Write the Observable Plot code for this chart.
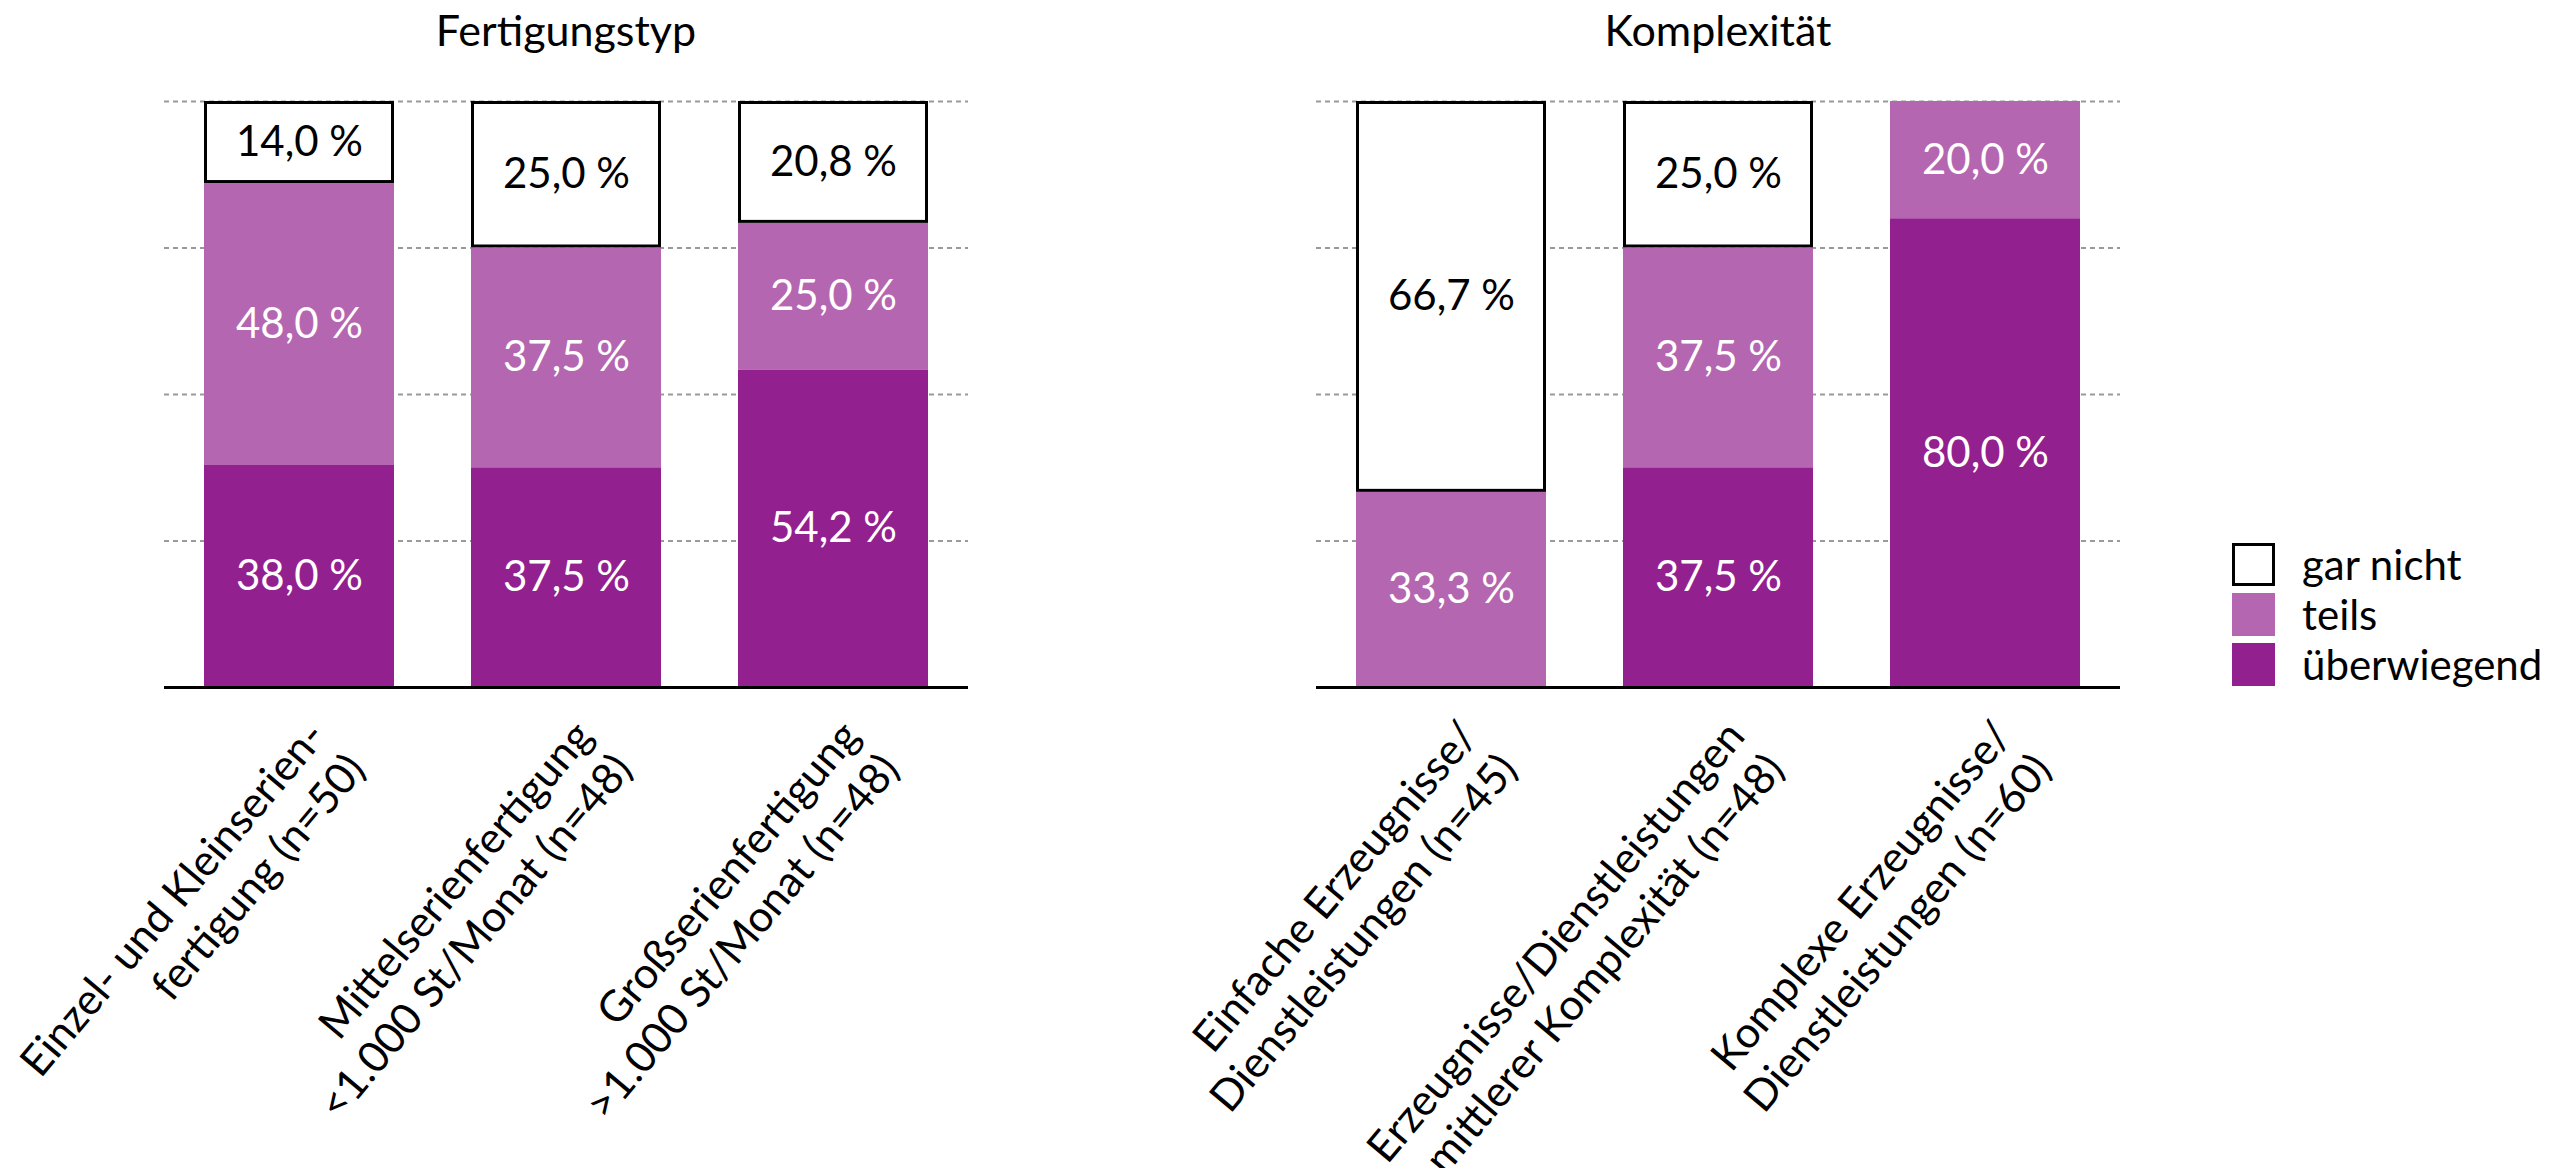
<!DOCTYPE html>
<html><head><meta charset="utf-8">
<script src="https://cdn.jsdelivr.net/npm/d3@7"></script>
<script src="https://cdn.jsdelivr.net/npm/@observablehq/plot@0.6"></script>
<style>
body{margin:0;background:#fff;font-family:Lato,sans-serif;}
#root{position:relative;width:2574px;height:1168px;overflow:hidden;background:#fff}
.panel{position:absolute;top:0;width:988px;height:1168px}
.title{position:absolute;top:4px;left:164px;width:804px;text-align:center;font-size:43px;line-height:1.2;color:#000}
.chart{position:absolute;top:70px;left:0}
.legend{position:absolute;left:2232px;top:539px}
.item{display:flex;align-items:center;height:50px}
.sw{width:43px;height:43px;box-sizing:border-box;margin-right:27px}
.lab{font-size:42px;color:#000;line-height:1}
</style></head>
<body><div id="root"></div>
<script>
// ---- data ----
const seriesNames = ["überwiegend", "teils", "gar nicht"];
const seriesColors = ["#93208f", "#b467b0", "#ffffff"];
const legendOrder = ["gar nicht", "teils", "überwiegend"];

const fertTitle = "Fertigungstyp";
const fertCats = ["einzel", "mittel", "gross"];
const fertLabels = ["Einzel- und Kleinserien-\nfertigung (n=50)", "Mittelserienfertigung\n<1.000 St/Monat (n=48)", "Großserienfertigung\n>1.000 St/Monat (n=48)"];
const fertUeberwiegend = [38.0, 37.5, 54.2];
const fertTeils = [48.0, 37.5, 25.0];
const fertGarNicht = [14.0, 25.0, 20.8];

const kompTitle = "Komplexität";
const kompCats = ["einfach", "mittel", "komplex"];
const kompLabels = ["Einfache Erzeugnisse/\nDienstleistungen (n=45)", "Erzeugnisse/Dienstleistungen\nmittlerer Komplexität (n=48)", "Komplexe Erzeugnisse/\nDienstleistungen (n=60)"];
const kompUeberwiegend = [0, 37.5, 80.0];
const kompTeils = [33.3, 37.5, 20.0];
const kompGarNicht = [66.7, 25.0, 0];

const gridTicks = [25, 50, 75, 100];

function build(cats, ue, te, gn) {
  const rows = [];
  cats.forEach((c, i) => {
    [[seriesNames[0], ue[i]], [seriesNames[1], te[i]], [seriesNames[2], gn[i]]].forEach(([s, v]) => {
      if (v > 0) rows.push({cat: c, series: s, value: v});
    });
  });
  return rows;
}
const fmt = v => v.toFixed(1).replace(".", ",") + " %";

function panel(title, cats, labels, data, left) {
  const div = document.createElement("div");
  div.className = "panel";
  div.style.left = left + "px";
  const t = document.createElement("div");
  t.className = "title";
  t.textContent = title;
  div.appendChild(t);
  const labelMap = new Map(cats.map((c, i) => [c, labels[i]]));
  const stackOpts = {x: "cat", y: "value", z: "series", order: seriesNames};
  const chart = Plot.plot({
    width: 988,
    height: 1098,
    marginLeft: 164,
    marginRight: 20,
    marginTop: 31,
    marginBottom: 481,
    style: {fontFamily: "Lato, sans-serif", fontSize: "42px", background: "transparent", overflow: "visible"},
    x: {domain: cats, paddingInner: 0.29, paddingOuter: 0.15},
    y: {domain: [0, 100], axis: null},
    color: {domain: seriesNames, range: seriesColors},
    marks: [
      Plot.ruleY(gridTicks, {stroke: "#9a9a9a", strokeWidth: 2, strokeDasharray: "5,4"}),
      Plot.barY(data, Plot.stackY({...stackOpts, fill: "series"})),
      Plot.barY(data, Plot.stackY({...stackOpts, fill: "none", stroke: d => d.series === "gar nicht" ? "#000" : "none", strokeWidth: 3, inset: 1.5})),
      Plot.text(data, Plot.stackY({...stackOpts, text: d => fmt(d.value), fill: d => d.series === "gar nicht" ? "#000" : "#fff", fontSize: 42})),
      Plot.ruleY([0], {stroke: "#000", strokeWidth: 3}),
      Plot.axisX({tickSize: 0, tickPadding: 0, tickRotate: -50, textAnchor: "end", lineAnchor: "top", lineHeight: 1.2, fontSize: 43, dy: 26, fill: "#000", tickFormat: d => labelMap.get(d), label: null})
    ]
  });
  chart.classList.add("chart");
  div.appendChild(chart);
  return div;
}

const root = document.getElementById("root");
root.appendChild(panel(fertTitle, fertCats, fertLabels, build(fertCats, fertUeberwiegend, fertTeils, fertGarNicht), 0));
root.appendChild(panel(kompTitle, kompCats, kompLabels, build(kompCats, kompUeberwiegend, kompTeils, kompGarNicht), 1152));

const legend = document.createElement("div");
legend.className = "legend";
legendOrder.forEach(s => {
  const item = document.createElement("div");
  item.className = "item";
  const sw = document.createElement("div");
  sw.className = "sw";
  const col = seriesColors[seriesNames.indexOf(s)];
  sw.style.background = col;
  if (s === "gar nicht") sw.style.border = "3px solid #000";
  const lab = document.createElement("span");
  lab.className = "lab";
  lab.textContent = s;
  item.appendChild(sw);
  item.appendChild(lab);
  legend.appendChild(item);
});
root.appendChild(legend);
</script>
</body></html>
